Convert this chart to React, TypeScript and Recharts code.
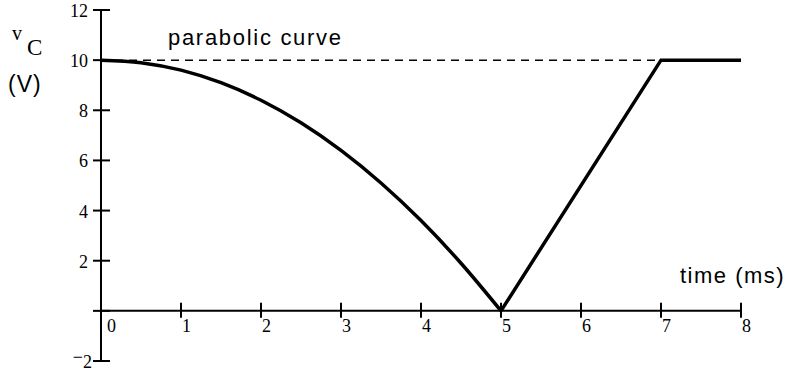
import React from "react";
import { LineChart, Line, XAxis, YAxis, ReferenceLine } from "recharts";

// Capacitor voltage vs time
const PARABOLA_T = [0, 0.5, 1, 1.5, 2, 2.5, 3, 3.5, 4, 4.5, 5];
const PARABOLA_V = [10, 9.9, 9.6, 9.1, 8.4, 7.5, 6.4, 5.1, 3.6, 1.9, 0];
const RAMP_T = [5, 7, 8];
const RAMP_V = [0, 10, 10];
const X_TICKS = [0, 1, 2, 3, 4, 5, 6, 7, 8];
const Y_TICKS = [-2, 0, 2, 4, 6, 8, 10, 12];
const X_DOMAIN: [number, number] = [0, 8];
const Y_DOMAIN: [number, number] = [-2, 12];

const W = 787;
const H = 375;
const MARGIN = { top: 10, right: 46, bottom: 0, left: 0 };
const Y_AXIS_W = 101;
const X_AXIS_H = 14;
const PLOT_H = H - MARGIN.top - MARGIN.bottom - X_AXIS_H;
// distance from the plot bottom (y = -2) up to the y = 0 line
const ZERO_SHIFT = (PLOT_H * (0 - Y_DOMAIN[0])) / (Y_DOMAIN[1] - Y_DOMAIN[0]);

const SERIF = "'Liberation Serif', 'Times New Roman', serif";
const SANS = "'Liberation Sans', Arial, sans-serif";

const parabola = PARABOLA_T.map((t, i) => ({ t, v: PARABOLA_V[i] }));
const ramp = RAMP_T.map((t, i) => ({ t, v: RAMP_V[i] }));

const renderXTick = (props: any) => {
  const { x, y, payload } = props;
  const y0 = y - ZERO_SHIFT;
  const dx = payload.value === 0 ? 6 : 1;
  return (
    <g>
      <line x1={x} x2={x} y1={y0 - 8} y2={y0 + 7} stroke="#000" strokeWidth={2} />
      <text
        x={x + dx}
        y={y0 + 21}
        style={{ fontFamily: SERIF, fontSize: 18 }}
        fill="#000"
        textAnchor="start"
      >
        {payload.value}
      </text>
    </g>
  );
};

const renderYTick = (props: any) => {
  const { x, y, payload } = props;
  const v = payload.value;
  let label: React.ReactNode = null;
  if (v < 0) {
    label = (
      <text x={x - 9} y={y + 7} style={{ fontFamily: SERIF, fontSize: 18 }} fill="#000" textAnchor="end">
        <tspan dy={-5}>−</tspan>
        <tspan dy={5}>{Math.abs(v)}</tspan>
      </text>
    );
  } else if (v !== 0) {
    label = (
      <text x={x - 13} y={y + 7} style={{ fontFamily: SERIF, fontSize: 18 }} fill="#000" textAnchor="end">
        {v}
      </text>
    );
  }
  return (
    <g>
      <line x1={x - 8} x2={x + 9} y1={y} y2={y} stroke="#000" strokeWidth={2} />
      {label}
    </g>
  );
};

export default function App() {
  return (
    <div style={{ position: "fixed", left: 0, top: 0, width: W, height: H, background: "#fff" }}>
      <LineChart width={W} height={H} margin={MARGIN}>
        <XAxis
          type="number"
          dataKey="t"
          domain={X_DOMAIN}
          ticks={X_TICKS}
          allowDataOverflow
          height={X_AXIS_H}
          axisLine={false}
          tickLine={false}
          tickSize={0}
          tickMargin={0}
          tick={renderXTick}
          interval={0}
        />
        <YAxis
          type="number"
          domain={Y_DOMAIN}
          ticks={Y_TICKS}
          allowDataOverflow
          width={Y_AXIS_W}
          axisLine={{ stroke: "#000", strokeWidth: 2 }}
          tickLine={false}
          tickSize={0}
          tickMargin={0}
          tick={renderYTick}
          interval={0}
        />
        <ReferenceLine y={0} stroke="#000" strokeWidth={2} />
        <ReferenceLine
          segment={[
            { x: 0, y: 10 },
            { x: 7, y: 10 },
          ]}
          stroke="#000"
          strokeWidth={1.5}
          strokeDasharray="8 6"
        />
        <Line
          data={parabola}
          dataKey="v"
          type="monotone"
          stroke="#000"
          strokeWidth={3.5}
          dot={false}
          isAnimationActive={false}
        />
        <Line
          data={ramp}
          dataKey="v"
          type="linear"
          stroke="#000"
          strokeWidth={3.5}
          dot={false}
          isAnimationActive={false}
        />
      </LineChart>
      <svg
        width={W}
        height={H}
        style={{ position: "absolute", left: 0, top: 0, pointerEvents: "none" }}
      >
        <text x={12} y={40} style={{ fontFamily: SERIF, fontSize: 20 }} fill="#000">v</text>
        <text x={27} y={55} style={{ fontFamily: SERIF, fontSize: 23 }} fill="#000">C</text>
        <text x={8} y={92} style={{ fontFamily: SANS, fontSize: 23, letterSpacing: 1 }} fill="#000">(V)</text>
        <text x={168} y={45} style={{ fontFamily: SANS, fontSize: 22, letterSpacing: 1.7 }} fill="#000">
          parabolic curve
        </text>
        <text x={680} y={283} style={{ fontFamily: SANS, fontSize: 22, letterSpacing: 1.5 }} fill="#000">
          time (ms)
        </text>
      </svg>
    </div>
  );
}
